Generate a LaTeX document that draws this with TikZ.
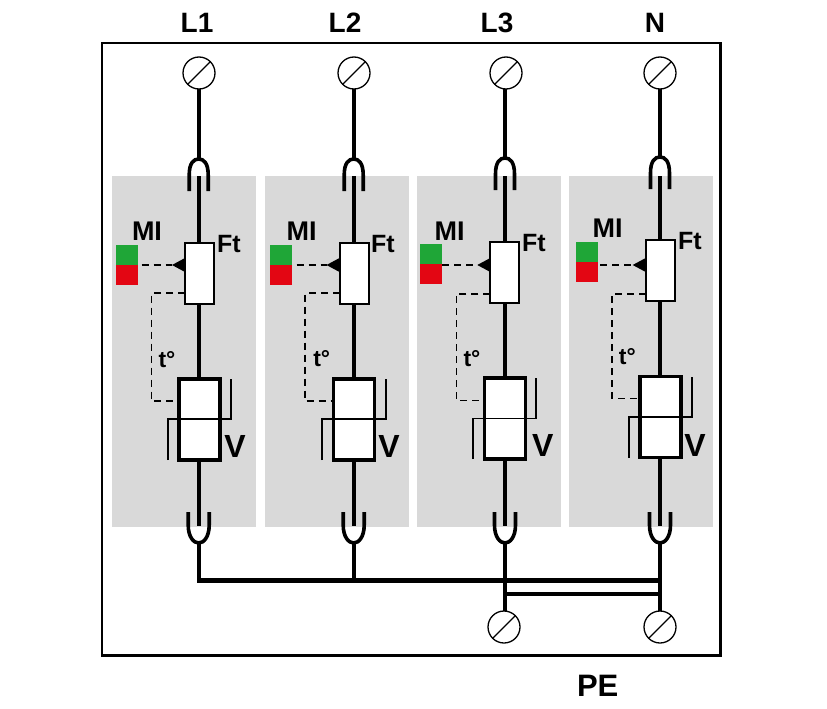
\documentclass[tikz,border=0pt]{standalone}
\usepackage{fontspec}
\setmainfont{Liberation Sans}
\definecolor{panelgrey}{HTML}{D9D9D9}
\definecolor{migreen}{HTML}{1FA637}
\definecolor{mired}{HTML}{E30613}
\tikzset{
  panelbox/.style={fill=panelgrey,draw=none,anchor=north west,minimum width=144pt,minimum height=351pt,inner sep=0,outer sep=0},
  termnode/.style={circle,draw=black,line width=1.3pt,fill=white,minimum size=32pt,inner sep=0,outer sep=0},
  termslash/.style={line width=1.3pt},
  wire/.style={line width=4.2pt},
  fusearc/.style={line width=3.6pt},
  ftbox/.style={rectangle,draw=black,line width=2pt,fill=white,anchor=north west,minimum width=29pt,minimum height=61pt,inner sep=0,outer sep=0},
  varbox/.style={rectangle,draw=black,line width=3.8pt,fill=white,anchor=north west,minimum width=41pt,minimum height=81pt,inner sep=0,outer sep=0},
  ledbox/.style={rectangle,draw=none,anchor=north west,minimum width=22pt,minimum height=20pt,inner sep=0,outer sep=0},
  thinline/.style={line width=1.6pt},
  dashline/.style={line width=1.4pt,dash pattern=on 7pt off 5pt},
  lblh/.style={font=\fontsize{28}{28}\selectfont\bfseries,inner sep=0},
  lblm/.style={font=\fontsize{27}{27}\selectfont\bfseries,inner sep=0},
  lblf/.style={font=\fontsize{25}{25}\selectfont\bfseries,inner sep=0},
  lblt/.style={font=\fontsize{23}{23}\selectfont\bfseries,inner sep=0},
  lblv/.style={font=\fontsize{32}{32}\selectfont\bfseries,inner sep=0},
}
\begin{document}
\begin{tikzpicture}[x=1pt,y=-1pt]
\useasboundingbox (0,0) rectangle (827,709);
\fill[white] (0,0) rectangle (827,709);
\draw[line width=2.6pt] (102,43) rectangle (720.7,655.5);
\foreach \idn/\txt/\xc/\xp/\yarch/\xf/\yf/\xg/\yg/\xv/\yv/\xd/\yd/\yb/\ym/\xtl/\xtr/\xmi/\ymi/\xft/\yft/\xtt/\ytt/\xvv/\yvv/\xds/\xhd/\yhd/\xtm in {
 a/L1/198.7/112/158/185/243/115.5/245/179/379/151.5/293/401/419/168/231/147/231/229/244/167/360/235/446/141.7/197/23/199,
 b/L2/353.7/265/158/339.5/243/270/245/333.5/379/305/293/401/419/322/385.7/301.7/231/383/244/321.7/359/389/446/296.7/345/23/354,
 c/L3/505/417/157/490.3/242/420.3/243.5/484.5/378/456.3/294/400.3/418.3/473/536/449.7/231/534/243/472/359/542.7/445/442/497/23/506,
 d/N/660/569/156/645.7/240/576/242/640.3/376.5/612/294/398.3/416.7/628.7/691.7/607.7/228/690/241/627.3/357/695/445/600/655/23/660}
{
  \node[panelbox] (panel\idn) at (\xp,176) {};
  \node[lblh] (head\idn) at (\xhd,\yhd) {\txt};
  % upper fuse
  \coordinate (archtop\idn) at (\xc,\yarch+1);
  \coordinate (archin\idn) at (\xc,176);
  \node[termnode] (term\idn) at (\xtm,73) {};
  \draw[termslash] (term\idn.225) -- (term\idn.45);
  \draw[wire] (term\idn.south -| archtop\idn) -- (archtop\idn);
  \draw[fusearc] (\xc-9.5,\yarch+33) -- (\xc-9.5,\yarch+17)
     .. controls (\xc-9.5,\yarch+5) and (\xc-5,\yarch+1) .. (\xc,\yarch+1)
     .. controls (\xc+5,\yarch+1) and (\xc+9.5,\yarch+5) .. (\xc+9.5,\yarch+17) -- (\xc+9.5,\yarch+33);
  % Ft and varistor
  \node[ftbox] (ft\idn) at (\xf,\yf) {};
  \node[varbox] (var\idn) at (\xv,\yv) {};
  \draw[wire] (archin\idn) -- (archin\idn |- ft\idn.north);
  \draw[wire] (ft\idn.south -| archin\idn) -- (archin\idn |- var\idn.north);
  % indicator
  \node[ledbox,fill=migreen] (green\idn) at (\xg,\yg) {};
  \node[ledbox,fill=mired,anchor=north west] (red\idn) at (green\idn.south west) {};
  \coordinate (tip\idn) at (\xf-13,265);
  \coordinate (start\idn) at (\xds,265);
  \draw[dashline,line width=1.6pt] (start\idn) -- (tip\idn);
  \fill (tip\idn) -- (\xf,258) -- (\xf,272) -- cycle;
  % thermal link
  \coordinate (corner\idn) at (\xd,\yd);
  \coordinate (cornerb\idn) at (\xd,\yb);
  \draw[dashline] (\xf,\yd) -- (corner\idn) -- (cornerb\idn) -- (\xv,\yb);
  % varistor characteristic
  \draw[thinline] (\xtl,\yv+81) -- (\xtl,\ym) -- (\xtr,\ym) -- (\xtr,\yv);
  % lower fork
  \coordinate (forkin\idn) at (\xc,526);
  \coordinate (forkbot\idn) at (\xc,543);
  \draw[wire] (var\idn.south -| archin\idn) -- (forkin\idn);
  \draw[fusearc] (\xc-10.5,512) -- (\xc-10.5,525)
     .. controls (\xc-10.5,537) and (\xc-5,543) .. (forkbot\idn)
     .. controls (\xc+5,543) and (\xc+10.5,537) .. (\xc+10.5,525) -- (\xc+10.5,512);
  % labels
  \node[lblm] (mi\idn) at (\xmi,\ymi) {MI};
  \node[lblf] (ftl\idn) at (\xft,\yft) {Ft};
  \node[lblt] (tl\idn) at (\xtt,\ytt) {t°};
  \node[lblv] (vl\idn) at (\xvv,\yvv) {V};
}
% PE terminals and bus
\node[termnode] (pea) at (504,627) {};
\node[termnode] (peb) at (660,627) {};
\draw[termslash] (pea.225) -- (pea.45);
\draw[termslash] (peb.225) -- (peb.45);
\coordinate (busleft) at (forkbota |- 0,580.5);
\coordinate (busmidb) at (forkbotb |- 0,580.5);
\coordinate (busright) at (forkbotd |- 0,580.5);
\coordinate (linkl) at (forkbotc |- 0,594);
\coordinate (linkr) at (forkbotd |- 0,594);
\draw[wire,line cap=rect] (forkbota) -- (busleft) -- (busright);
\draw[wire] (forkbotb) -- (busmidb);
\draw[wire] (forkbotc) -- (pea.north -| forkbotc);
\draw[wire] (forkbotd) -- (peb.north);
\draw[wire] (linkl) -- (linkr);
\node[lblh,font=\fontsize{31}{31}\selectfont\bfseries] (pelabel) at (597.7,686) {PE};
\end{tikzpicture}
\end{document}
